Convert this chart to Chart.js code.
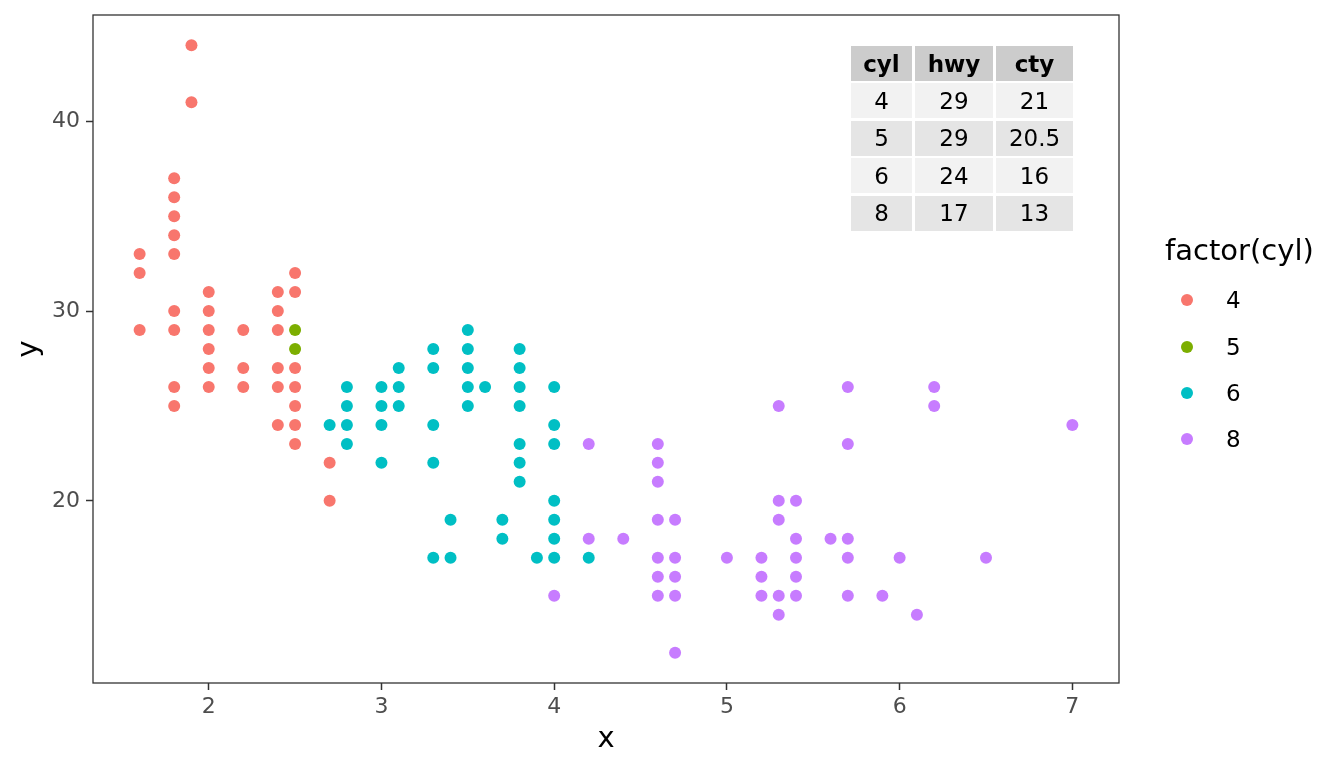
<!DOCTYPE html>
<html><head><meta charset="utf-8">
<script src="https://cdn.jsdelivr.net/npm/chart.js@4"></script>
<style>
html,body{margin:0;padding:0;background:#fff;}
#wrap{position:relative;width:1344px;height:768px;overflow:hidden;font-family:"DejaVu Sans",sans-serif;}
#wrap canvas{position:absolute;left:0;top:0;}
#tbl{position:absolute;left:851px;top:46px;display:grid;grid-template-columns:61px 78px 77px;column-gap:3px;row-gap:2.4px;grid-auto-rows:35px;font-size:23px;color:#000;}
#tbl div{display:flex;align-items:center;justify-content:center;}
#tbl .h{background:#cccccc;font-weight:bold;}
#tbl .r0{background:#f2f2f2;}
#tbl .r1{background:#e5e5e5;}
#legTitle{position:absolute;left:1165px;top:232px;height:36px;line-height:36px;font-size:29px;color:#000;white-space:nowrap;}
.legItem{position:absolute;left:1170px;height:40px;width:150px;}
.legItem .dot{position:absolute;left:11px;top:14px;width:12px;height:12px;border-radius:50%;}
.legItem .lab{position:absolute;left:56px;top:0;height:40px;line-height:40px;font-size:23px;color:#000;}
</style></head>
<body>
<div id="wrap">
<canvas id="c" width="1344" height="768"></canvas>
<div id="tbl"></div>
<div id="legTitle">factor(cyl)</div>
<div id="legend"></div>
</div>
<script>
// ---- data ----
const cylLevels = ['4', '5', '6', '8'];
const cylColors = ['#F8766D', '#7CAE00', '#00BFC4', '#C77CFF'];

const cyl4Displ = [1.6,1.6,1.6, 1.8,1.8,1.8,1.8,1.8,1.8,1.8,1.8,1.8, 1.9,1.9, 2.0,2.0,2.0,2.0,2.0,2.0, 2.2,2.2,2.2, 2.4,2.4,2.4,2.4,2.4,2.4, 2.5,2.5,2.5,2.5,2.5,2.5,2.5, 2.7,2.7];
const cyl4Hwy   = [33,32,29, 37,36,35,34,33,30,29,26,25, 44,41, 31,30,29,28,27,26, 29,27,26, 31,30,29,27,26,24, 32,31,27,26,25,24,23, 22,20];

const cyl5Displ = [2.5, 2.5];
const cyl5Hwy   = [29, 28];

const cyl6Displ = [2.7, 2.8,2.8,2.8,2.8, 3.0,3.0,3.0,3.0, 3.1,3.1,3.1, 3.3,3.3,3.3,3.3,3.3, 3.4,3.4, 3.5,3.5,3.5,3.5,3.5, 3.6, 3.7,3.7, 3.8,3.8,3.8,3.8,3.8,3.8,3.8, 3.9, 4.0,4.0,4.0,4.0,4.0,4.0,4.0, 4.2];
const cyl6Hwy   = [24, 26,25,24,23, 26,25,24,22, 27,26,25, 28,27,24,22,17, 19,17, 29,28,27,26,25, 26, 19,18, 28,27,26,25,23,22,21, 17, 26,24,23,20,19,18,17, 17];

const cyl8Displ = [4.0, 4.2,4.2, 4.4, 4.6,4.6,4.6,4.6,4.6,4.6,4.6, 4.7,4.7,4.7,4.7,4.7, 5.0, 5.2,5.2,5.2, 5.3,5.3,5.3,5.3,5.3, 5.4,5.4,5.4,5.4,5.4, 5.6, 5.7,5.7,5.7,5.7,5.7, 5.9, 6.0, 6.1, 6.2,6.2, 6.5, 7.0];
const cyl8Hwy   = [15, 23,18, 18, 23,22,21,19,17,16,15, 19,17,16,15,12, 17, 17,16,15, 25,20,19,15,14, 20,18,17,16,15, 18, 26,23,18,17,15, 15, 17, 14, 26,25, 17, 24];

const xTicks = [2, 3, 4, 5, 6, 7];
const yTicks = [20, 30, 40];

const tableHeader = ['cyl', 'hwy', 'cty'];
const tableCyl = ['4', '5', '6', '8'];
const tableHwy = ['29', '29', '24', '17'];
const tableCty = ['21', '20.5', '16', '13'];

// ---- table ----
const tbl = document.getElementById('tbl');
tableHeader.forEach(h => { const d = document.createElement('div'); d.className = 'h'; d.textContent = h; tbl.appendChild(d); });
tableCyl.forEach((c, i) => {
  [c, tableHwy[i], tableCty[i]].forEach(v => {
    const d = document.createElement('div'); d.className = 'r' + (i % 2); d.textContent = v; tbl.appendChild(d);
  });
});

// ---- legend ----
const leg = document.getElementById('legend');
const legCenters = [300.3, 346.7, 392.9, 439.3];
cylLevels.forEach((lv, i) => {
  const it = document.createElement('div'); it.className = 'legItem'; it.style.top = (legCenters[i] - 20) + 'px';
  const dot = document.createElement('div'); dot.className = 'dot'; dot.style.background = cylColors[i];
  const lab = document.createElement('div'); lab.className = 'lab'; lab.textContent = lv;
  it.appendChild(dot); it.appendChild(lab); leg.appendChild(it);
});

// ---- chart ----
const groups = [[cyl4Displ, cyl4Hwy], [cyl5Displ, cyl5Hwy], [cyl6Displ, cyl6Hwy], [cyl8Displ, cyl8Hwy]];
const datasets = groups.map((g, i) => ({
  label: cylLevels[i],
  data: g[0].map((x, j) => ({ x: x, y: g[1][j] })),
  backgroundColor: cylColors[i],
  borderWidth: 0,
  pointRadius: 6,
  pointHoverRadius: 6
}));

const borderPlugin = {
  id: 'panelBorder',
  afterDraw(chart) {
    const a = chart.chartArea, ctx = chart.ctx;
    ctx.save();
    ctx.strokeStyle = '#333333';
    ctx.lineWidth = 1.3;
    ctx.strokeRect(a.left, a.top, a.right - a.left, a.bottom - a.top);
    ctx.restore();
  }
};

const tickFont = { family: 'DejaVu Sans', size: 22 };
const titleFont = { family: 'DejaVu Sans', size: 29 };

new Chart(document.getElementById('c'), {
  type: 'scatter',
  data: { datasets },
  plugins: [borderPlugin],
  options: {
    responsive: false,
    animation: false,
    events: [],
    layout: { padding: { top: 15, right: 225, bottom: 0, left: 0 } },
    plugins: { legend: { display: false }, tooltip: { enabled: false } },
    scales: {
      x: {
        type: 'linear', min: 1.33, max: 7.27,
        afterBuildTicks: s => { s.ticks = xTicks.map(v => ({ value: v })); },
        afterFit: s => { s.height = 85; s.paddingLeft = 0; s.paddingRight = 0; },
        ticks: { font: tickFont, color: '#4D4D4D', padding: 4, autoSkip: false, maxRotation: 0 },
        grid: { drawOnChartArea: false, drawTicks: true, tickLength: 7, tickColor: '#333333', tickWidth: 1.5 },
        border: { display: false },
        title: { display: true, text: 'x', font: titleFont, color: '#000000', padding: { top: 0, bottom: 11 } }
      },
      y: {
        type: 'linear', min: 10.4, max: 45.6,
        afterBuildTicks: s => { s.ticks = yTicks.map(v => ({ value: v })); },
        afterFit: s => { s.width = 93; s.paddingTop = 0; s.paddingBottom = 0; },
        ticks: { font: tickFont, color: '#4D4D4D', padding: 6, autoSkip: false },
        grid: { drawOnChartArea: false, drawTicks: true, tickLength: 7, tickColor: '#333333', tickWidth: 1.5 },
        border: { display: false },
        title: { display: true, text: 'y', font: titleFont, color: '#000000', padding: { top: 12, bottom: 0 } }
      }
    }
  }
});
</script>
</body></html>
